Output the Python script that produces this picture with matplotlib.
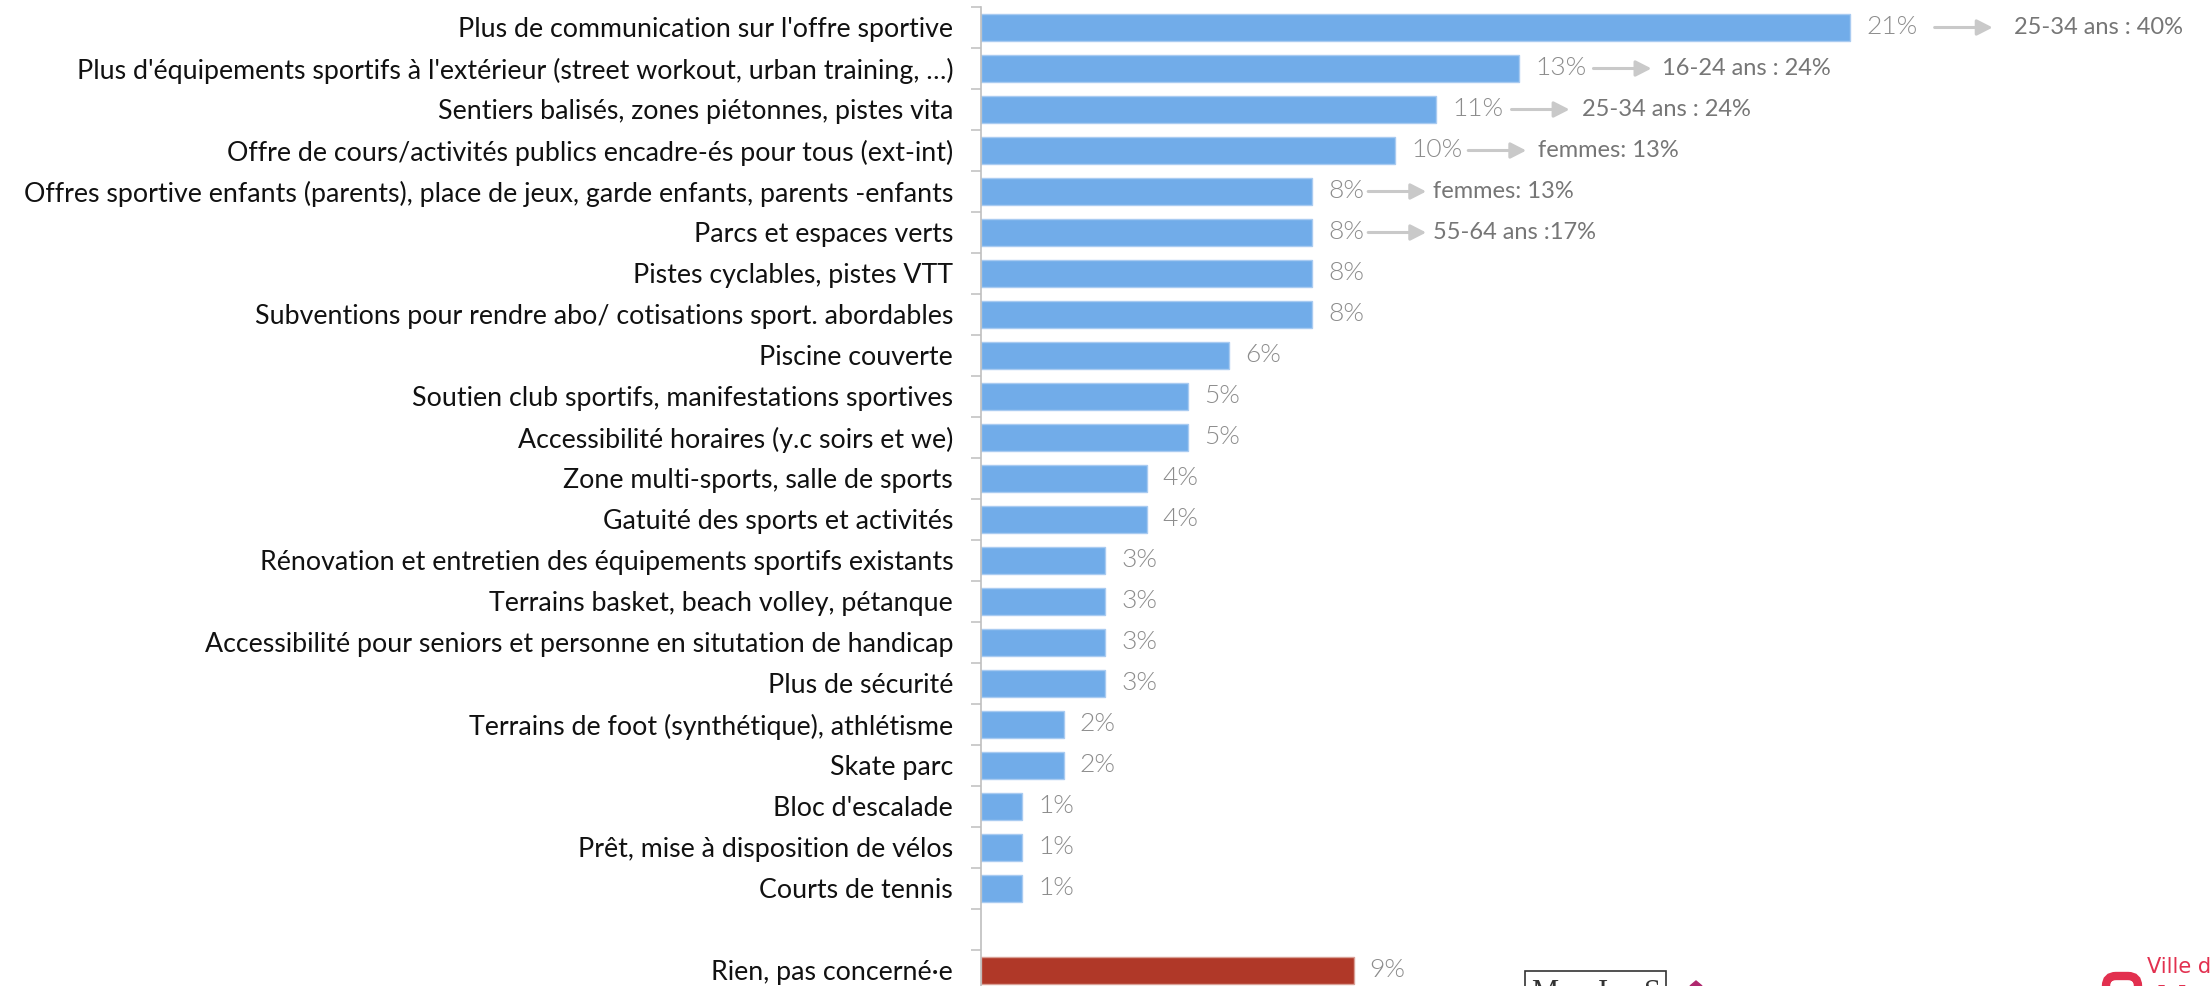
import matplotlib
matplotlib.use("Agg")
import matplotlib.pyplot as plt
from matplotlib.patches import Rectangle, FancyBboxPatch, Polygon
from matplotlib.transforms import IdentityTransform
import numpy as np

# ---------------- data ----------------
categories = [
    "Plus de communication sur l'offre sportive",
    "Plus d'équipements sportifs à l'extérieur (street workout, urban training, …)",
    "Sentiers balisés, zones piétonnes, pistes vita",
    "Offre de cours/activités publics encadre-és pour tous (ext-int)",
    "Offres sportive enfants (parents), place de jeux, garde enfants, parents -enfants",
    "Parcs et espaces verts",
    "Pistes cyclables, pistes VTT",
    "Subventions pour rendre abo/ cotisations sport. abordables",
    "Piscine couverte",
    "Soutien club sportifs, manifestations sportives",
    "Accessibilité horaires (y.c soirs et we)",
    "Zone multi-sports, salle de sports",
    "Gatuité des sports et activités",
    "Rénovation et entretien des équipements sportifs existants",
    "Terrains basket, beach volley, pétanque",
    "Accessibilité pour seniors et personne en situtation de handicap",
    "Plus de sécurité",
    "Terrains de foot (synthétique), athlétisme",
    "Skate parc",
    "Bloc d'escalade",
    "Prêt, mise à disposition de vélos",
    "Courts de tennis",
]
values = [21, 13, 11, 10, 8, 8, 8, 8, 6, 5, 5, 4, 4, 3, 3, 3, 3, 2, 2, 1, 1, 1]

none_label = "Rien, pas concerné·e"
none_value = 9

highlight_rows = [0, 1, 2, 3, 4, 5]
highlight_texts = ["25-34 ans : 40%", "16-24 ans : 24%", "25-34 ans : 24%",
                   "femmes: 13%", "femmes: 13%", "55-64 ans :17%"]

# ---------------- style ----------------
W, H, DPI = 2211, 986, 100
FONT = ["Lato", "DejaVu Sans"]
FS = 19.3
VFS = 19
AFS = 17
BLUE = "#71ACE9"
BLUE_EDGE = "#A9CBF1"
RED = "#B03828"
RED_EDGE = "#D9A096"
VAL_COLOR = "#8C8C8C"
ANN_COLOR = "#767676"
ARROW_COLOR = "#C9C9C9"
AXIS_COLOR = "#BFBFBF"
arrow_gaps = [17, 7, 8, 6, 4, 4]
text_gaps = [21, 11, 12, 12, 7, 7]
ARROW_LEN = 58

plt.rcParams["font.family"] = FONT

fig = plt.figure(figsize=(W / DPI, H / DPI), dpi=DPI)
px_per_unit = 41.4
ax = fig.add_axes([981 / W, -5 / H, (W - 981) / W, 984 / H])

n_blue = len(categories)
none_row = n_blue + 1
all_labels = categories + [""] + [none_label]
positions = np.arange(len(all_labels))

bh = 0.68
ax.barh(positions[:n_blue], values, height=bh, color=BLUE, edgecolor=BLUE_EDGE, linewidth=1)
ax.barh([none_row], [none_value], height=bh, color=RED, edgecolor=RED_EDGE, linewidth=1)

ax.set_xlim(0, (W - 981) / px_per_unit)
ax.set_ylim(len(all_labels) - 0.5, -0.5)

for s in ["top", "right", "bottom"]:
    ax.spines[s].set_visible(False)
ax.spines["left"].set_color(AXIS_COLOR)
ax.spines["left"].set_linewidth(1.2)

ax.set_xticks([])
ax.set_yticks(positions, all_labels)
ax.set_yticks(np.arange(-0.5, len(all_labels), 1), minor=True)
ax.tick_params(axis="y", which="major", length=0, pad=20, labelsize=FS, labelcolor="#111111")
ax.tick_params(axis="y", which="minor", length=7.2, width=1.1, color=AXIS_COLOR)

val_texts = []
for i, v in enumerate(values):
    t = ax.annotate(f"{v}%", xy=(v, i), xytext=(16, 0), textcoords="offset pixels",
                    va="center", ha="left", color=VAL_COLOR, fontsize=VFS, fontweight=300)
    val_texts.append(t)
ax.annotate(f"{none_value}%", xy=(none_value, none_row), xytext=(16, 0), textcoords="offset pixels",
            va="center", ha="left", color=VAL_COLOR, fontsize=VFS, fontweight=300)

fig.canvas.draw()
renderer = fig.canvas.get_renderer()
for k, (row, txt) in enumerate(zip(highlight_rows, highlight_texts)):
    bb = val_texts[row].get_window_extent(renderer)
    y = ax.transData.transform((0, row))[1]
    x0 = bb.x1 + arrow_gaps[k]
    x1 = x0 + ARROW_LEN
    ax.annotate("", xy=(x1, y), xytext=(x0, y), xycoords="figure pixels", textcoords="figure pixels",
                arrowprops=dict(arrowstyle="-|>,head_length=0.47,head_width=0.24", color=ARROW_COLOR,
                                lw=2.2, shrinkA=0, shrinkB=0, mutation_scale=20))
    ax.annotate(txt, xy=(x1 + text_gaps[k], y), xycoords="figure pixels", va="center", ha="left",
                color=ANN_COLOR, fontsize=AFS)

# ---------------- logos (cut off at bottom, as in the source) ----------------
idt = IdentityTransform()
fig.add_artist(Rectangle((1525, -6), 141, 21, transform=idt, fill=False, ec="#333333", lw=1.2))
for x, ch in [(1545, "M"), (1603, "I"), (1652, "S")]:
    fig.text(x, 7, ch, transform=idt, ha="center", va="top", fontsize=22,
             family=["Liberation Serif", "DejaVu Serif"], color="#333333")
fig.add_artist(Polygon([[1690, 0], [1696, 5], [1702, 0]], closed=True, transform=idt,
                       color="#B0286E"))
fig.add_artist(FancyBboxPatch((2106, -30), 32, 40, boxstyle="round,pad=0,rounding_size=10",
                              transform=idt, fill=False, ec="#E2304F", lw=6))
fig.text(2147, 13, "Ville de", transform=idt, ha="left", va="baseline", fontsize=15,
         family=["Liberation Sans Narrow", "DejaVu Sans"], color="#E2304F")
fig.text(2158, 3, "Vernier", transform=idt, ha="left", va="top", fontsize=30, fontweight="bold",
         family=["Liberation Sans", "DejaVu Sans"], color="#E2304F")

fig.savefig("out.png", dpi=DPI)
